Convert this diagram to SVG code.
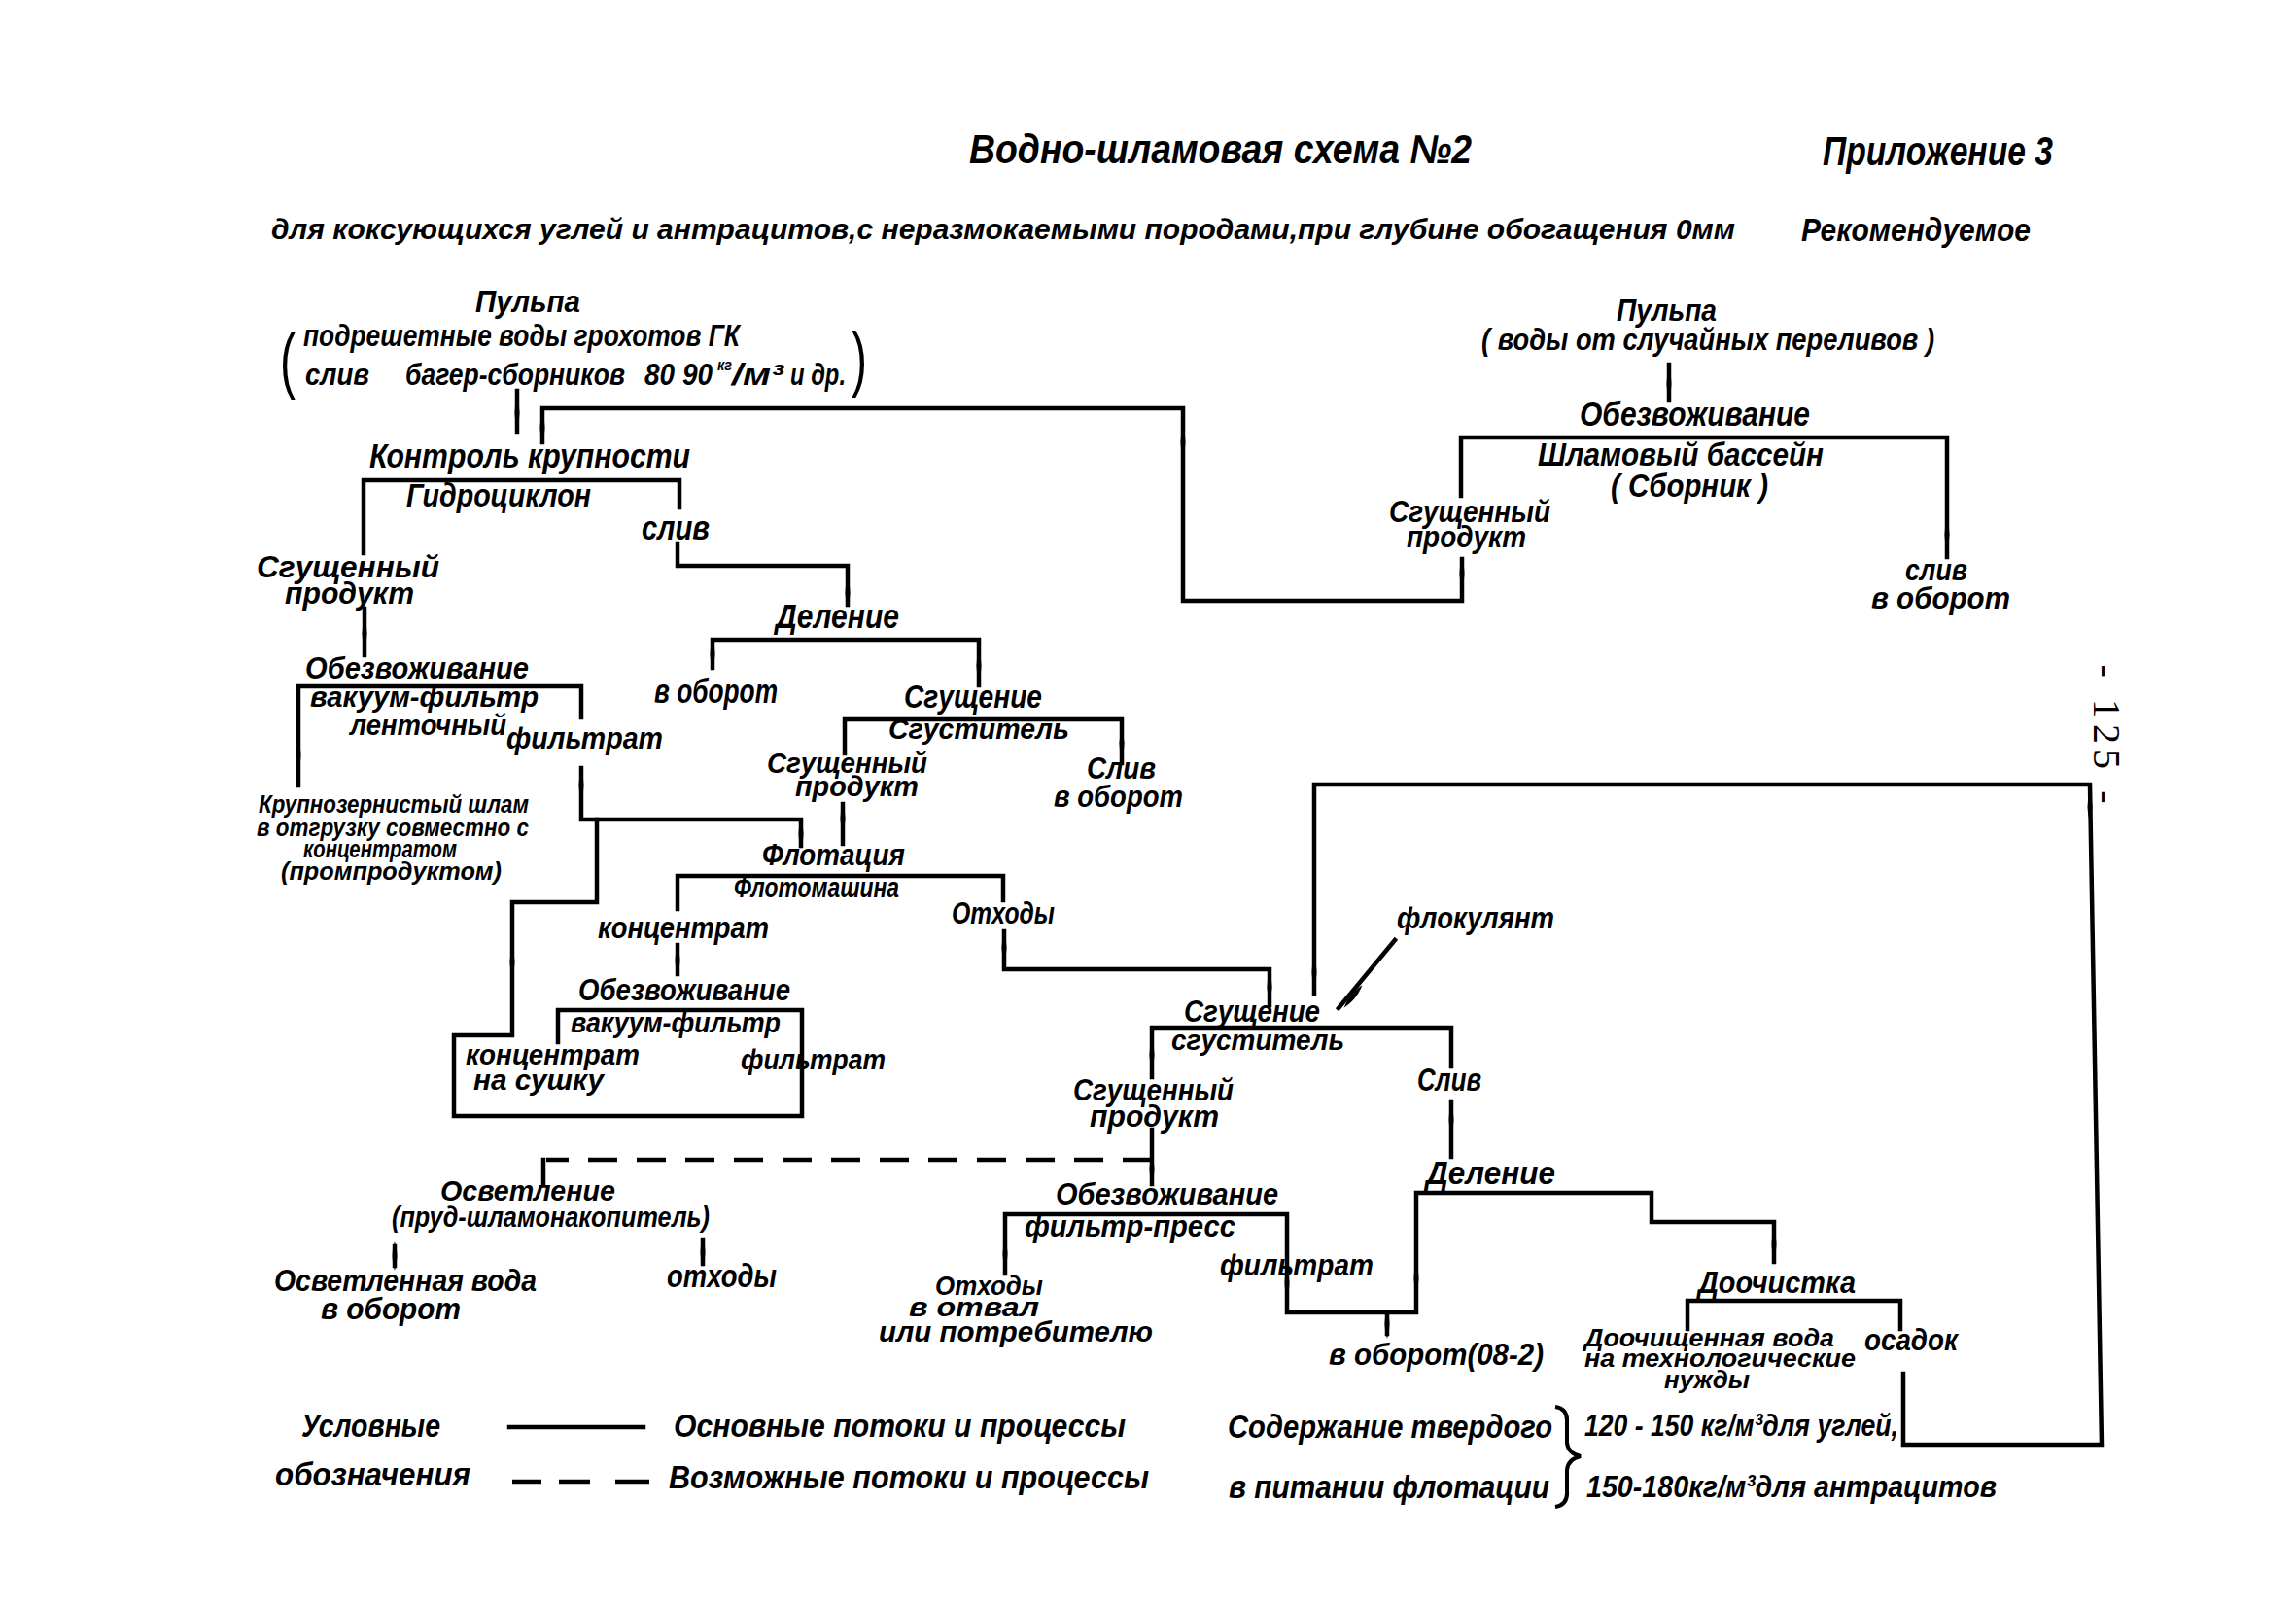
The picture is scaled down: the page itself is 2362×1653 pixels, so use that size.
<svg xmlns="http://www.w3.org/2000/svg" width="2362" height="1653" viewBox="0 0 2362 1653">
<style>
.t{font-family:"Liberation Sans","DejaVu Sans",Arial,sans-serif;font-style:italic;font-weight:700;fill:#000}
.c{fill:none;stroke:#000;stroke-width:4.5;stroke-linejoin:miter;stroke-linecap:square}
.d{stroke-dasharray:30 20;stroke-linecap:butt}
.p{font-family:"Liberation Sans","DejaVu Sans",sans-serif;font-weight:400;fill:#000}
</style>
<defs>
<path id="b" d="M0,-15 Q5,0 0,15 Q-5,0 0,-15 Z" fill="#000"/>
</defs>
<rect width="2362" height="1653" fill="#fff"/>

<g id="header">
<text class="t" x="997" y="168" font-size="42" textLength="517" lengthAdjust="spacingAndGlyphs">Водно-шламовая схема №2</text>
<text class="t" x="1875" y="170" font-size="42" textLength="237" lengthAdjust="spacingAndGlyphs">Приложение 3</text>
<text class="t" x="279" y="246" font-size="30" textLength="1506" lengthAdjust="spacingAndGlyphs">для коксующихся углей и антрацитов,с неразмокаемыми породами,при глубине обогащения 0мм</text>
<text class="t" x="1853" y="248" font-size="33" textLength="236" lengthAdjust="spacingAndGlyphs">Рекомендуемое</text>
</g>

<g id="connectors">
<path class="c" d="M532 402 V444"/>
<path class="c" d="M1504 575 V618 H1217 V420 H558 V455"/>
<path class="c" d="M374 569 V494 H699 V522"/>
<path class="c" d="M697 560 V582 H872 V622"/>
<path class="c" d="M375 626 V674"/>
<path class="c" d="M307 808 V706 H598 V738"/>
<path class="c" d="M598 790 V843 H824 V870"/>
<path class="c" d="M574 1072 V1039 H825 V1148 H467 V1065 H527 V928 H614 V843"/>
<path class="c" d="M733 687 V658 H1007 V705"/>
<path class="c" d="M869 775 V740 H1154 V785"/>
<path class="c" d="M867 827 V868"/>
<path class="c" d="M697 935 V901 H1032 V926"/>
<path class="c" d="M697 972 V1002"/>
<path class="c" d="M1033 958 V997 H1306 V1034"/>
<path class="c" d="M1717 375 V412"/>
<path class="c" d="M1503 510 V450 H2003 V573"/>
<path class="c" d="M1435 967 L1377 1037"/>
<path class="c" d="M1958 1413 V1486 H2162 L2150 807 H1352 V1022"/>
<path class="c" d="M1185 1108 V1057 H1493 V1097"/>
<path class="c" d="M1493 1133 V1190"/>
<path class="c" d="M1185 1162 V1218"/>
<path class="c d" d="M1185 1193 H562"/>
<path class="c" d="M559 1193 V1218"/>
<path class="c" d="M1034 1310 V1249 H1324 V1350 H1457 V1227 H1699 V1257 H1825 V1298"/>
<path class="c" d="M1427 1350 V1372"/>
<path class="c" d="M406 1282 V1302"/>
<path class="c" d="M723 1275 V1300"/>
<path class="c" d="M1736 1367 V1338 H1955 V1367"/>
<use href="#b" x="532" y="425"/>
<use href="#b" x="1504" y="590"/>
<use href="#b" x="1217" y="455"/>
<use href="#b" x="558" y="440"/>
<use href="#b" x="872" y="610"/>
<use href="#b" x="375" y="652"/>
<use href="#b" x="307" y="777"/>
<use href="#b" x="598" y="808"/>
<use href="#b" x="824" y="858"/>
<use href="#b" x="527" y="990"/>
<use href="#b" x="733" y="673"/>
<use href="#b" x="1007" y="685"/>
<use href="#b" x="1154" y="765"/>
<use href="#b" x="867" y="842"/>
<use href="#b" x="697" y="988"/>
<use href="#b" x="1033" y="975"/>
<use href="#b" x="1306" y="1015"/>
<use href="#b" x="1717" y="395"/>
<use href="#b" x="2003" y="550"/>
<use href="#b" x="1352" y="1000"/>
<use href="#b" x="2150" y="830"/>
<use href="#b" x="1185" y="1085"/>
<use href="#b" x="1493" y="1152"/>
<use href="#b" x="1185" y="1203"/>
<use href="#b" x="1034" y="1290"/>
<use href="#b" x="1324" y="1320"/>
<use href="#b" x="1457" y="1315"/>
<use href="#b" x="1825" y="1280"/>
<use href="#b" x="1427" y="1362"/>
<use href="#b" x="406" y="1292"/>
<use href="#b" x="723" y="1288"/>
<use href="#b" x="1392" y="1025" transform="rotate(39 1392 1025)"/>
</g>

<g id="pulp1">
<text class="t" x="489" y="321" font-size="32" textLength="108" lengthAdjust="spacingAndGlyphs">Пульпа</text>
<text class="t" x="312" y="356" font-size="31" textLength="449" lengthAdjust="spacingAndGlyphs">подрешетные воды грохотов ГК</text>
<text class="t" x="314" y="396" font-size="31" textLength="66" lengthAdjust="spacingAndGlyphs">слив</text>
<text class="t" x="417" y="396" font-size="31" textLength="226" lengthAdjust="spacingAndGlyphs">багер-сборников</text>
<text class="t" x="663" y="396" font-size="31" textLength="70" lengthAdjust="spacingAndGlyphs">80 90</text>
<text class="t" x="738" y="381" font-size="16" textLength="15" lengthAdjust="spacingAndGlyphs">кг</text>
<text class="t" x="753" y="396" font-size="31" textLength="53" lengthAdjust="spacingAndGlyphs">/м³</text>
<text class="t" x="813" y="396" font-size="31" textLength="57" lengthAdjust="spacingAndGlyphs">и др.</text>
<text class="p" x="288" y="396" font-size="74" textLength="16" lengthAdjust="spacingAndGlyphs">(</text>
<text class="p" x="876" y="394" font-size="74" textLength="16" lengthAdjust="spacingAndGlyphs">)</text>
</g>

<g id="kontrol">
<text class="t" x="380" y="481" font-size="35" textLength="330" lengthAdjust="spacingAndGlyphs">Контроль крупности</text>
<text class="t" x="418" y="521" font-size="33" textLength="190" lengthAdjust="spacingAndGlyphs">Гидроциклон</text>
<text class="t" x="660" y="555" font-size="35" textLength="70" lengthAdjust="spacingAndGlyphs">слив</text>
</g>

<g id="sgush-prod-1">
<text class="t" x="264" y="594" font-size="31" textLength="188" lengthAdjust="spacingAndGlyphs">Сгущенный</text>
<text class="t" x="293" y="621" font-size="31" textLength="133" lengthAdjust="spacingAndGlyphs">продукт</text>
</g>

<g id="delenie-1">
<text class="t" x="798" y="646" font-size="35" textLength="127" lengthAdjust="spacingAndGlyphs">Деление</text>
<text class="t" x="673" y="723" font-size="35" textLength="127" lengthAdjust="spacingAndGlyphs">в оборот</text>
</g>

<g id="sgushenie-1">
<text class="t" x="930" y="728" font-size="33" textLength="142" lengthAdjust="spacingAndGlyphs">Сгущение</text>
<text class="t" x="914" y="760" font-size="30" textLength="186" lengthAdjust="spacingAndGlyphs">Сгуститель</text>
<text class="t" x="1118" y="801" font-size="31" textLength="71" lengthAdjust="spacingAndGlyphs">Слив</text>
<text class="t" x="1084" y="830" font-size="31" textLength="133" lengthAdjust="spacingAndGlyphs">в оборот</text>
<text class="t" x="789" y="795" font-size="29" textLength="165" lengthAdjust="spacingAndGlyphs">Сгущенный</text>
<text class="t" x="818" y="819" font-size="29" textLength="127" lengthAdjust="spacingAndGlyphs">продукт</text>
</g>

<g id="obezv-1">
<text class="t" x="314" y="698" font-size="32" textLength="230" lengthAdjust="spacingAndGlyphs">Обезвоживание</text>
<text class="t" x="319" y="727" font-size="29" textLength="235" lengthAdjust="spacingAndGlyphs">вакуум-фильтр</text>
<text class="t" x="360" y="756" font-size="29" textLength="161" lengthAdjust="spacingAndGlyphs">ленточный</text>
<text class="t" x="521" y="770" font-size="32" textLength="161" lengthAdjust="spacingAndGlyphs">фильтрат</text>
<text class="t" x="266" y="836" font-size="26" textLength="278" lengthAdjust="spacingAndGlyphs">Крупнозернистый шлам</text>
<text class="t" x="264" y="860" font-size="26" textLength="280" lengthAdjust="spacingAndGlyphs">в отгрузку совместно с</text>
<text class="t" x="312" y="882" font-size="26" textLength="158" lengthAdjust="spacingAndGlyphs">концентратом</text>
<text class="t" x="289" y="905" font-size="26" textLength="227" lengthAdjust="spacingAndGlyphs">(промпродуктом)</text>
</g>

<g id="flotacia">
<text class="t" x="784" y="890" font-size="31" textLength="147" lengthAdjust="spacingAndGlyphs">Флотация</text>
<text class="t" x="755" y="923" font-size="29" textLength="170" lengthAdjust="spacingAndGlyphs">Флотомашина</text>
<text class="t" x="615" y="965" font-size="32" textLength="176" lengthAdjust="spacingAndGlyphs">концентрат</text>
<text class="t" x="979" y="950" font-size="31" textLength="106" lengthAdjust="spacingAndGlyphs">Отходы</text>
</g>

<g id="obezv-2">
<text class="t" x="595" y="1029" font-size="31" textLength="218" lengthAdjust="spacingAndGlyphs">Обезвоживание</text>
<text class="t" x="587" y="1062" font-size="29" textLength="216" lengthAdjust="spacingAndGlyphs">вакуум-фильтр</text>
<text class="t" x="479" y="1095" font-size="30" textLength="179" lengthAdjust="spacingAndGlyphs">концентрат</text>
<text class="t" x="487" y="1121" font-size="30" textLength="134" lengthAdjust="spacingAndGlyphs">на сушку</text>
<text class="t" x="762" y="1100" font-size="30" textLength="149" lengthAdjust="spacingAndGlyphs">фильтрат</text>
</g>

<g id="pulp2">
<text class="t" x="1663" y="330" font-size="31" textLength="103" lengthAdjust="spacingAndGlyphs">Пульпа</text>
<text class="t" x="1524" y="360" font-size="31" textLength="466" lengthAdjust="spacingAndGlyphs">( воды от случайных переливов )</text>
</g>

<g id="shlam-bassein">
<text class="t" x="1625" y="438" font-size="35" textLength="237" lengthAdjust="spacingAndGlyphs">Обезвоживание</text>
<text class="t" x="1582" y="479" font-size="34" textLength="294" lengthAdjust="spacingAndGlyphs">Шламовый бассейн</text>
<text class="t" x="1657" y="511" font-size="33" textLength="162" lengthAdjust="spacingAndGlyphs">( Сборник )</text>
<text class="t" x="1429" y="537" font-size="31" textLength="166" lengthAdjust="spacingAndGlyphs">Сгущенный</text>
<text class="t" x="1447" y="563" font-size="31" textLength="123" lengthAdjust="spacingAndGlyphs">продукт</text>
<text class="t" x="1960" y="597" font-size="31" textLength="64" lengthAdjust="spacingAndGlyphs">слив</text>
<text class="t" x="1925" y="626" font-size="31" textLength="143" lengthAdjust="spacingAndGlyphs">в оборот</text>
</g>

<g id="sgushenie-2">
<text class="t" x="1437" y="955" font-size="32" textLength="162" lengthAdjust="spacingAndGlyphs">флокулянт</text>
<text class="t" x="1218" y="1051" font-size="32" textLength="140" lengthAdjust="spacingAndGlyphs">Сгущение</text>
<text class="t" x="1205" y="1080" font-size="30" textLength="178" lengthAdjust="spacingAndGlyphs">сгуститель</text>
<text class="t" x="1104" y="1132" font-size="31" textLength="165" lengthAdjust="spacingAndGlyphs">Сгущенный</text>
<text class="t" x="1121" y="1159" font-size="31" textLength="133" lengthAdjust="spacingAndGlyphs">продукт</text>
<text class="t" x="1458" y="1122" font-size="33" textLength="66" lengthAdjust="spacingAndGlyphs">Слив</text>
</g>

<g id="osvetlenie">
<text class="t" x="453" y="1235" font-size="30" textLength="180" lengthAdjust="spacingAndGlyphs">Осветление</text>
<text class="t" x="403" y="1262" font-size="30" textLength="327" lengthAdjust="spacingAndGlyphs">(пруд-шламонакопитель)</text>
<text class="t" x="282" y="1328" font-size="32" textLength="270" lengthAdjust="spacingAndGlyphs">Осветленная вода</text>
<text class="t" x="330" y="1357" font-size="32" textLength="144" lengthAdjust="spacingAndGlyphs">в оборот</text>
<text class="t" x="686" y="1324" font-size="33" textLength="113" lengthAdjust="spacingAndGlyphs">отходы</text>
</g>

<g id="obezv-3">
<text class="t" x="1086" y="1239" font-size="31" textLength="229" lengthAdjust="spacingAndGlyphs">Обезвоживание</text>
<text class="t" x="1054" y="1272" font-size="31" textLength="217" lengthAdjust="spacingAndGlyphs">фильтр-пресс</text>
<text class="t" x="1255" y="1312" font-size="32" textLength="158" lengthAdjust="spacingAndGlyphs">фильтрат</text>
<text class="t" x="962" y="1332" font-size="27" textLength="111" lengthAdjust="spacingAndGlyphs">Отходы</text>
<text class="t" x="935" y="1354" font-size="27" textLength="134" lengthAdjust="spacingAndGlyphs">в отвал</text>
<text class="t" x="904" y="1380" font-size="29" textLength="282" lengthAdjust="spacingAndGlyphs">или потребителю</text>
</g>

<g id="delenie-2">
<text class="t" x="1467" y="1218" font-size="33" textLength="133" lengthAdjust="spacingAndGlyphs">Деление</text>
<text class="t" x="1367" y="1404" font-size="32" textLength="221" lengthAdjust="spacingAndGlyphs">в оборот(08-2)</text>
</g>

<g id="doochistka">
<text class="t" x="1747" y="1330" font-size="32" textLength="162" lengthAdjust="spacingAndGlyphs">Доочистка</text>
<text class="t" x="1630" y="1385" font-size="26" textLength="257" lengthAdjust="spacingAndGlyphs">Доочищенная вода</text>
<text class="t" x="1630" y="1406" font-size="26" textLength="279" lengthAdjust="spacingAndGlyphs">на технологические</text>
<text class="t" x="1712" y="1428" font-size="26" textLength="88" lengthAdjust="spacingAndGlyphs">нужды</text>
<text class="t" x="1918" y="1389" font-size="31" textLength="96" lengthAdjust="spacingAndGlyphs">осадок</text>
</g>

<g id="legend">
<text class="t" x="310" y="1478" font-size="34" textLength="143" lengthAdjust="spacingAndGlyphs">Условные</text>
<text class="t" x="283" y="1528" font-size="34" textLength="201" lengthAdjust="spacingAndGlyphs">обозначения</text>
<path class="c" d="M524 1468 H662"/>
<path class="c" d="M527 1524 H557 M575 1524 H607 M633 1524 H668" style="stroke-linecap:butt"/>
<text class="t" x="693" y="1478" font-size="34" textLength="465" lengthAdjust="spacingAndGlyphs">Основные потоки и процессы</text>
<text class="t" x="688" y="1531" font-size="34" textLength="494" lengthAdjust="spacingAndGlyphs">Возможные потоки и процессы</text>
</g>

<g id="note">
<text class="t" x="1263" y="1479" font-size="33" textLength="334" lengthAdjust="spacingAndGlyphs">Содержание твердого</text>
<text class="t" x="1264" y="1541" font-size="33" textLength="330" lengthAdjust="spacingAndGlyphs">в питании флотации</text>
<path d="M1600 1447 Q1613 1449 1612 1463 L1612 1484 Q1613 1495 1626 1498 Q1613 1501 1612 1512 L1612 1534 Q1613 1548 1600 1550" fill="none" stroke="#000" stroke-width="4"/>
<text class="t" x="1630" y="1477" font-size="32" textLength="323" lengthAdjust="spacingAndGlyphs">120 - 150 кг/м³для углей,</text>
<text class="t" x="1632" y="1540" font-size="32" textLength="422" lengthAdjust="spacingAndGlyphs">150-180кг/м³для антрацитов</text>
</g>

<g id="page-number">
<text x="2167" y="755" font-family="Liberation Serif, serif" font-size="40" text-anchor="middle" dominant-baseline="central" textLength="143" lengthAdjust="spacing" transform="rotate(90 2167 755)">- 125 -</text>
</g>
</svg>
